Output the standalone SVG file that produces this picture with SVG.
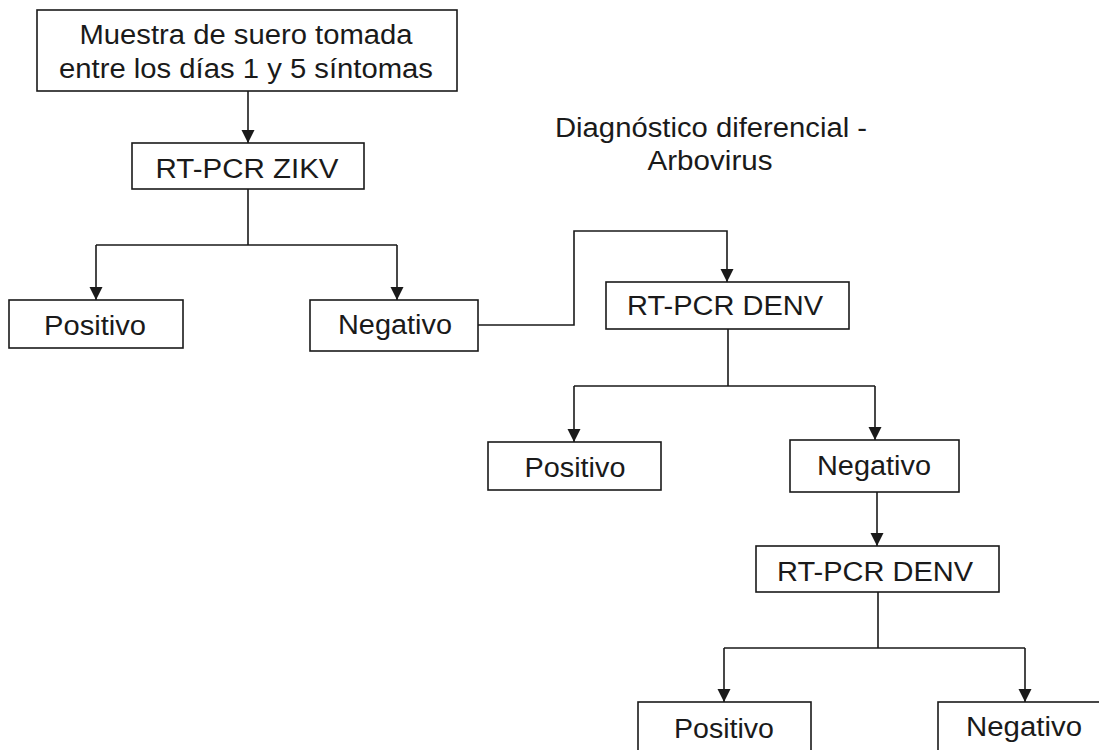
<svg xmlns="http://www.w3.org/2000/svg" width="1099" height="750" viewBox="0 0 1099 750">
<style>
.box{fill:#fff;stroke:#1a1a1a;stroke-width:1.6}
.t{font-family:"Liberation Sans",Arial,sans-serif;font-size:27px;fill:#1a1a1a;text-anchor:middle}
.c{fill:none;stroke:#1a1a1a;stroke-width:1.6}
.a{fill:none;stroke:#1a1a1a;stroke-width:1.6;marker-end:url(#ah)}
</style>
<defs>
<marker id="ah" markerUnits="userSpaceOnUse" markerWidth="14" markerHeight="14" viewBox="0 0 14 14" refX="13" refY="7" orient="auto">
<path d="M0,0.5 L13,7 L0,13.5 Z" fill="#1a1a1a"/>
</marker>
</defs>
<rect width="1099" height="750" fill="#fff"/>
<g id="connectors">
<path class="a" d="M248,91 V143"/>
<path class="c" d="M248,189 V245 M96,245 H397"/>
<path class="a" d="M96,245 V300"/>
<path class="a" d="M397,245 V300"/>
<path class="a" d="M478,325 H574 V231 H727 V282"/>
<path class="c" d="M728,329 V386 M574,386 H875"/>
<path class="a" d="M574,386 V442"/>
<path class="a" d="M875,386 V440"/>
<path class="a" d="M877,492 V546"/>
<path class="c" d="M878,592 V648 M724,648 H1025"/>
<path class="a" d="M724,648 V702"/>
<path class="a" d="M1025,648 V702"/>
</g>
<g id="n-muestra">
<rect class="box" x="37" y="10" width="420" height="81"/>
<text class="t" x="246" y="44" textLength="333" lengthAdjust="spacingAndGlyphs">Muestra de suero tomada</text>
<text class="t" x="246" y="78" textLength="374" lengthAdjust="spacingAndGlyphs">entre los días 1 y 5 síntomas</text>
</g>
<g id="n-zikv">
<rect class="box" x="132" y="143" width="232" height="46"/>
<text class="t" x="247" y="178" textLength="183" lengthAdjust="spacingAndGlyphs">RT-PCR ZIKV</text>
</g>
<g id="n-pos1">
<rect class="box" x="9" y="300" width="174" height="48"/>
<text class="t" x="95" y="335" textLength="102" lengthAdjust="spacingAndGlyphs">Positivo</text>
</g>
<g id="n-neg1">
<rect class="box" x="310" y="300" width="168" height="51"/>
<text class="t" x="395" y="334" textLength="114" lengthAdjust="spacingAndGlyphs">Negativo</text>
</g>
<g id="title">
<text class="t" x="711" y="137" textLength="312" lengthAdjust="spacingAndGlyphs">Diagnóstico diferencial -</text>
<text class="t" x="710" y="170" textLength="125" lengthAdjust="spacingAndGlyphs">Arbovirus</text>
</g>
<g id="n-denv1">
<rect class="box" x="606" y="282" width="243" height="47"/>
<text class="t" x="725" y="315" textLength="196" lengthAdjust="spacingAndGlyphs">RT-PCR DENV</text>
</g>
<g id="n-pos2">
<rect class="box" x="488" y="442" width="173" height="48"/>
<text class="t" x="575" y="477" textLength="101" lengthAdjust="spacingAndGlyphs">Positivo</text>
</g>
<g id="n-neg2">
<rect class="box" x="790" y="440" width="169" height="52"/>
<text class="t" x="874" y="475" textLength="114" lengthAdjust="spacingAndGlyphs">Negativo</text>
</g>
<g id="n-denv2">
<rect class="box" x="756" y="546" width="243" height="46"/>
<text class="t" x="875" y="581" textLength="196" lengthAdjust="spacingAndGlyphs">RT-PCR DENV</text>
</g>
<g id="n-pos3">
<rect class="box" x="638" y="702" width="173" height="52"/>
<text class="t" x="724" y="738" textLength="100" lengthAdjust="spacingAndGlyphs">Positivo</text>
</g>
<g id="n-neg3">
<rect class="box" x="938" y="702" width="175" height="52"/>
<text class="t" x="1024" y="736" textLength="116" lengthAdjust="spacingAndGlyphs">Negativo</text>
</g>
</svg>
